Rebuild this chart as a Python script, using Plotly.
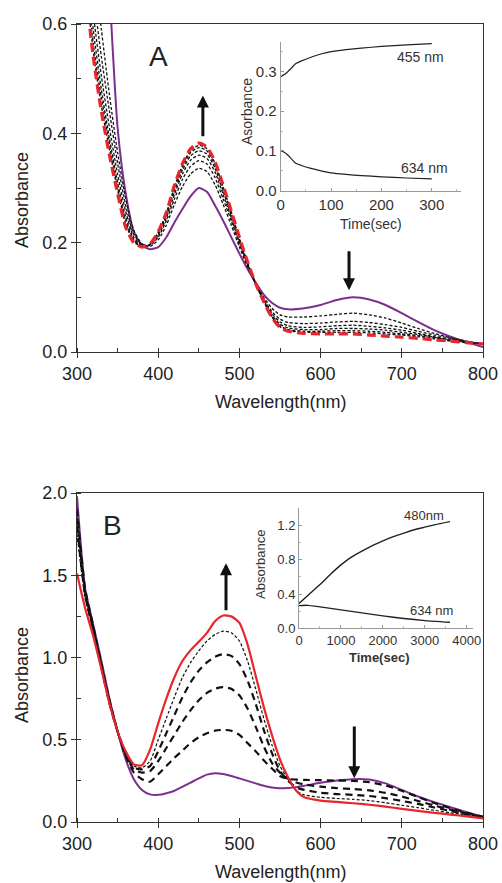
import plotly.graph_objects as go

# ---------------- Panel A: spectra (wavelength in nm) ----------------
wl_a = [300, 310, 320, 330, 340, 350, 360, 370, 380, 390, 400, 410, 420, 430, 440,
        450, 460, 470, 480, 490, 500, 510, 520, 530, 540, 550, 560, 580, 600, 620,
        640, 660, 680, 700, 720, 740, 760, 780, 800]

a_start = [1.80, 1.40, 1.12, 0.90, 0.66, 0.41, 0.29, 0.22, 0.195, 0.188, 0.192, 0.21, 0.237, 0.262, 0.285,
           0.300, 0.293, 0.268, 0.24, 0.21, 0.18, 0.152, 0.127, 0.105, 0.09, 0.081, 0.078, 0.080, 0.086, 0.095,
           0.100, 0.096, 0.086, 0.071, 0.055, 0.040, 0.028, 0.018, 0.009]
a_mid1 = [1.25, 0.92, 0.72, 0.59, 0.47, 0.365, 0.28, 0.222, 0.198, 0.193, 0.205, 0.232, 0.27, 0.303, 0.326,
          0.336, 0.33, 0.306, 0.27, 0.232, 0.192, 0.156, 0.125, 0.100, 0.080, 0.068, 0.064, 0.064, 0.066, 0.069,
          0.071, 0.068, 0.062, 0.053, 0.043, 0.034, 0.026, 0.020, 0.014]
a_mid2 = [1.18, 0.85, 0.66, 0.54, 0.44, 0.345, 0.268, 0.215, 0.197, 0.195, 0.21, 0.24, 0.28, 0.316, 0.34,
          0.350, 0.344, 0.319, 0.28, 0.24, 0.197, 0.158, 0.125, 0.097, 0.074, 0.060, 0.054, 0.052, 0.053, 0.055,
          0.056, 0.054, 0.050, 0.045, 0.038, 0.031, 0.025, 0.019, 0.015]
a_mid3 = [1.12, 0.79, 0.62, 0.505, 0.41, 0.325, 0.257, 0.21, 0.195, 0.196, 0.213, 0.245, 0.288, 0.326, 0.351,
          0.360, 0.354, 0.329, 0.288, 0.245, 0.201, 0.160, 0.125, 0.095, 0.070, 0.055, 0.048, 0.045, 0.046, 0.048,
          0.049, 0.047, 0.044, 0.040, 0.034, 0.028, 0.023, 0.018, 0.015]
a_mid4 = [1.08, 0.75, 0.59, 0.48, 0.39, 0.31, 0.247, 0.206, 0.194, 0.197, 0.216, 0.249, 0.294, 0.333, 0.359,
          0.368, 0.362, 0.336, 0.294, 0.25, 0.204, 0.161, 0.125, 0.094, 0.067, 0.051, 0.044, 0.041, 0.041, 0.043,
          0.043, 0.042, 0.040, 0.036, 0.032, 0.027, 0.022, 0.018, 0.015]
a_mid5 = [1.05, 0.72, 0.565, 0.465, 0.38, 0.302, 0.24, 0.204, 0.193, 0.197, 0.218, 0.252, 0.299, 0.338, 0.365,
          0.374, 0.368, 0.341, 0.299, 0.253, 0.206, 0.162, 0.125, 0.093, 0.065, 0.048, 0.041, 0.038, 0.038, 0.039,
          0.039, 0.038, 0.036, 0.033, 0.030, 0.026, 0.021, 0.018, 0.015]
a_mid6 = [1.02, 0.69, 0.55, 0.45, 0.37, 0.296, 0.234, 0.202, 0.192, 0.197, 0.219, 0.254, 0.302, 0.342, 0.369,
          0.378, 0.372, 0.345, 0.302, 0.256, 0.208, 0.164, 0.125, 0.092, 0.064, 0.046, 0.039, 0.036, 0.036, 0.036,
          0.036, 0.035, 0.033, 0.031, 0.028, 0.024, 0.020, 0.017, 0.015]
a_end = [1.00, 0.68, 0.54, 0.44, 0.36, 0.29, 0.228, 0.20, 0.192, 0.198, 0.22, 0.255, 0.305, 0.345, 0.372,
         0.382, 0.375, 0.348, 0.305, 0.258, 0.21, 0.165, 0.125, 0.092, 0.063, 0.045, 0.038, 0.034, 0.033, 0.033,
         0.033, 0.031, 0.029, 0.027, 0.025, 0.022, 0.020, 0.017, 0.015]

# Panel A inset: kinetics
t_a = [0, 10, 20, 30, 40, 60, 80, 100, 130, 160, 200, 250, 300]
k455 = [0.287, 0.295, 0.307, 0.320, 0.326, 0.336, 0.344, 0.350, 0.355, 0.359, 0.363, 0.367, 0.370]
k634a = [0.101, 0.094, 0.082, 0.069, 0.064, 0.056, 0.050, 0.045, 0.041, 0.038, 0.035, 0.032, 0.030]

# ---------------- Panel B: spectra ----------------
wl_b = [300, 310, 320, 330, 340, 350, 360, 370, 380, 390, 400, 410, 420, 430, 440, 450, 460, 470,
        480, 490, 500, 510, 520, 530, 540, 550, 560, 570, 580, 600, 620, 640, 660, 680, 700, 720,
        740, 760, 780, 800]

b_start = [1.98, 1.42, 1.20, 0.98, 0.75, 0.55, 0.38, 0.26, 0.195, 0.168, 0.165, 0.175, 0.19, 0.215, 0.24, 0.265, 0.288, 0.297,
           0.292, 0.28, 0.265, 0.25, 0.235, 0.22, 0.21, 0.205, 0.207, 0.212, 0.22, 0.238, 0.252, 0.26, 0.258, 0.235, 0.195, 0.155,
           0.12, 0.09, 0.06, 0.032]
b_mid1 = [1.90, 1.42, 1.19, 0.96, 0.74, 0.55, 0.40, 0.30, 0.26, 0.245, 0.29, 0.34, 0.39, 0.435, 0.48, 0.515, 0.54, 0.555,
          0.56, 0.555, 0.53, 0.48, 0.43, 0.375, 0.325, 0.28, 0.262, 0.258, 0.256, 0.254, 0.252, 0.25, 0.242, 0.222, 0.19, 0.152,
          0.115, 0.084, 0.056, 0.032]
b_mid2 = [1.85, 1.40, 1.18, 0.95, 0.73, 0.55, 0.41, 0.32, 0.30, 0.31, 0.37, 0.45, 0.53, 0.61, 0.68, 0.74, 0.785, 0.81,
          0.82, 0.81, 0.77, 0.69, 0.58, 0.46, 0.36, 0.30, 0.262, 0.24, 0.228, 0.215, 0.206, 0.20, 0.192, 0.177, 0.155, 0.128,
          0.10, 0.075, 0.05, 0.03]
b_mid3 = [1.80, 1.38, 1.17, 0.94, 0.72, 0.55, 0.42, 0.33, 0.32, 0.34, 0.43, 0.54, 0.65, 0.76, 0.85, 0.92, 0.97, 1.005,
          1.02, 1.01, 0.96, 0.86, 0.72, 0.56, 0.42, 0.31, 0.25, 0.21, 0.195, 0.178, 0.17, 0.165, 0.158, 0.145, 0.128, 0.11,
          0.088, 0.067, 0.047, 0.028]
b_mid4 = [1.75, 1.36, 1.16, 0.93, 0.72, 0.55, 0.42, 0.34, 0.33, 0.37, 0.50, 0.63, 0.76, 0.88, 0.97, 1.04, 1.10, 1.14,
          1.16, 1.15, 1.10, 0.98, 0.81, 0.63, 0.47, 0.34, 0.26, 0.19, 0.165, 0.15, 0.143, 0.138, 0.13, 0.117, 0.102, 0.087,
          0.071, 0.056, 0.04, 0.025]
b_end = [1.51, 1.30, 1.13, 0.93, 0.72, 0.55, 0.43, 0.35, 0.345, 0.44, 0.60, 0.75, 0.88, 0.98, 1.045, 1.095, 1.15, 1.22,
         1.255, 1.25, 1.21, 1.08, 0.89, 0.70, 0.53, 0.38, 0.27, 0.19, 0.15, 0.13, 0.122, 0.114, 0.105, 0.093, 0.08, 0.068,
         0.056, 0.045, 0.034, 0.022]

# Panel B inset: kinetics
t_b480 = [0, 250, 500, 750, 1000, 1250, 1500, 1750, 2000, 2250, 2500, 2750, 3000, 3250, 3600]
k480 = [0.29, 0.40, 0.51, 0.63, 0.74, 0.83, 0.90, 0.965, 1.02, 1.07, 1.11, 1.15, 1.18, 1.21, 1.245]
t_b634 = [0, 200, 500, 1000, 1500, 2000, 2500, 3000, 3600]
k634b = [0.265, 0.268, 0.25, 0.215, 0.18, 0.145, 0.115, 0.09, 0.07]

wl_ticks = [300, 400, 500, 600, 700, 800]

PURPLE = "#7d2e8f"
RED = "#e8262b"
FONT = "Liberation Sans, Arial, sans-serif"

fig = go.Figure()


def spec(x, y, xa, ya, color, width, dash):
    fig.add_trace(go.Scatter(x=x, y=y, xaxis=xa, yaxis=ya, mode="lines",
                             line=dict(color=color, width=width, dash=dash, shape="spline", smoothing=0.6),
                             showlegend=False, hoverinfo="skip"))


# Panel A curves
spec(wl_a, a_start, "x", "y", PURPLE, 2, "solid")
for s in [a_mid1, a_mid2, a_mid3, a_mid4, a_mid5, a_mid6]:
    spec(wl_a, s, "x", "y", "#111111", 1.3, "3px,2px")
spec(wl_a, a_end, "x", "y", RED, 3.2, "9px,5px")

# Panel A inset curves
for t, k in [(t_a, k455), (t_a, k634a)]:
    fig.add_trace(go.Scatter(x=t, y=k, xaxis="x2", yaxis="y2", mode="lines",
                             line=dict(color="#222222", width=1.2, shape="spline", smoothing=0.5),
                             showlegend=False, hoverinfo="skip"))

# Panel B curves
spec(wl_b, b_start, "x3", "y3", PURPLE, 2, "solid")
for s, w, d in [(b_mid1, 2.2, "7px,5px"), (b_mid2, 2.2, "7px,5px"), (b_mid3, 2.2, "7px,5px"), (b_mid4, 1.2, "3px,2px")]:
    spec(wl_b, s, "x3", "y3", "#111111", w, d)
spec(wl_b, b_end, "x3", "y3", RED, 2.2, "solid")

# Panel B inset curves
for t, k in [(t_b480, k480), (t_b634, k634b)]:
    fig.add_trace(go.Scatter(x=t, y=k, xaxis="x4", yaxis="y4", mode="lines",
                             line=dict(color="#222222", width=1.4, shape="spline", smoothing=0.5),
                             showlegend=False, hoverinfo="skip"))

W, H = 502, 883


def px_x(p):
    return p / W


def px_y(p):
    return 1 - p / H


main_axis = dict(showline=True, linecolor="#333333", linewidth=1.3, mirror=True,
                 ticks="outside", ticklen=5, tickwidth=1.2, tickcolor="#333333",
                 showgrid=False, zeroline=False, automargin=False,
                 tickfont=dict(family=FONT, size=18, color="#222222"))

inset_axis = dict(showline=True, linecolor="#999999", linewidth=1, mirror=False,
                  ticks="inside", ticklen=3, tickwidth=1, tickcolor="#999999",
                  showgrid=False, zeroline=False, automargin=False)

fig.update_layout(
    width=W, height=H,
    margin=dict(l=0, r=0, t=0, b=0, autoexpand=False),
    paper_bgcolor="white", plot_bgcolor="rgba(0,0,0,0)",
    font=dict(family=FONT, color="#222222"),
    xaxis=dict(main_axis, domain=[px_x(77), px_x(483)], range=[300, 800], anchor="y",
               tickvals=wl_ticks,
               minor=dict(dtick=50, ticks="inside", ticklen=4, tickcolor="#333333")),
    yaxis=dict(main_axis, domain=[px_y(352), px_y(24)], range=[0, 0.6], anchor="x",
               tickvals=[0, 0.2, 0.4, 0.6], tickformat=".1f",
               minor=dict(dtick=0.1, ticks="inside", ticklen=4, tickcolor="#333333")),
    xaxis2=dict(inset_axis, domain=[px_x(280.7), px_x(461)], range=[0, 358], anchor="y2",
                tickvals=[0, 100, 200, 300], tickfont=dict(family=FONT, size=15, color="#333333"),
                minor=dict(dtick=50, ticks="inside", ticklen=2, tickcolor="#bbbbbb")),
    yaxis2=dict(inset_axis, domain=[px_y(190.7), px_y(41.7)], range=[0, 0.375], anchor="x2",
                tickvals=[0, 0.1, 0.2, 0.3], tickformat=".1f",
                tickfont=dict(family=FONT, size=15, color="#333333"),
                minor=dict(dtick=0.05, ticks="inside", ticklen=2, tickcolor="#bbbbbb")),
    xaxis3=dict(main_axis, domain=[px_x(77), px_x(483)], range=[300, 800], anchor="y3",
                tickvals=wl_ticks,
                minor=dict(dtick=50, ticks="inside", ticklen=4, tickcolor="#333333")),
    yaxis3=dict(main_axis, domain=[px_y(822), px_y(493)], range=[0, 2.0], anchor="x3",
                tickvals=[0, 0.5, 1.0, 1.5, 2.0], tickformat=".1f",
                minor=dict(dtick=0.25, ticks="inside", ticklen=4, tickcolor="#333333")),
    xaxis4=dict(inset_axis, domain=[px_x(299), px_x(473)], range=[0, 4150], anchor="y4",
                tickvals=[0, 1000, 2000, 3000, 4000], tickfont=dict(family=FONT, size=13, color="#333333"),
                minor=dict(dtick=500, ticks="inside", ticklen=2, tickcolor="#bbbbbb")),
    yaxis4=dict(inset_axis, domain=[px_y(628.3), px_y(508.3)], range=[0, 1.40], anchor="x4",
                tickvals=[0, 0.4, 0.8, 1.2], tickformat=".1f",
                tickfont=dict(family=FONT, size=13, color="#333333"),
                minor=dict(dtick=0.2, ticks="inside", ticklen=2, tickcolor="#bbbbbb")),
)

ann = []


def label(text, x, y, size, angle=0, bold=False, color="#222222"):
    ann.append(dict(text=f"<b>{text}</b>" if bold else text, x=px_x(x), y=px_y(y),
                    xref="paper", yref="paper", showarrow=False, textangle=angle,
                    xanchor="center", yanchor="middle",
                    font=dict(family=FONT, size=size, color=color)))


# axis titles
label("Absorbance", 22, 200, 18, angle=-90)
label("Wavelength(nm)", 280, 402, 18)
label("Absorbance", 22, 675, 18, angle=-90)
label("Wavelength(nm)", 280, 872, 18)
# panel letters
label("A", 158, 56, 28)
label("B", 112, 525, 28)
# inset titles
label("Asorbance", 247, 112, 14, angle=-90, color="#333333")
label("Time(sec)", 371, 224, 14, color="#333333")
label("Absorbance", 260, 565, 13, angle=-90, color="#333333")
label("Time(sec)", 379, 657, 13, bold=True, color="#333333")

# inset curve labels
for text, x, y, xa, ya, size in [("455 nm", 277, 0.3355, "x2", "y2", 14),
                                 ("634 nm", 286, 0.0572, "x2", "y2", 14),
                                 ("480nm", 2982, 1.314, "x4", "y4", 13),
                                 ("634 nm", 3149, 0.2135, "x4", "y4", 13)]:
    ann.append(dict(text=text, x=x, y=y, xref=xa, yref=ya, showarrow=False,
                    xanchor="center", yanchor="middle",
                    font=dict(family=FONT, size=size, color="#333333")))

# trend arrows (tip at x, y; tail at ax, ay)
for x, y, ay, xa, ya in [(455, 0.469, 0.392, "x", "y"),
                         (635, 0.113, 0.187, "x", "y"),
                         (483.5, 1.573, 1.278, "x3", "y3"),
                         (641.5, 0.266, 0.59, "x3", "y3")]:
    ann.append(dict(x=x, y=y, ax=x, ay=ay, xref=xa, yref=ya, axref=xa, ayref=ya,
                    showarrow=True, arrowhead=2, arrowsize=0.8, arrowwidth=3,
                    arrowcolor="#111111", text=""))

fig.update_layout(annotations=ann)

fig.write_html("out.html")
